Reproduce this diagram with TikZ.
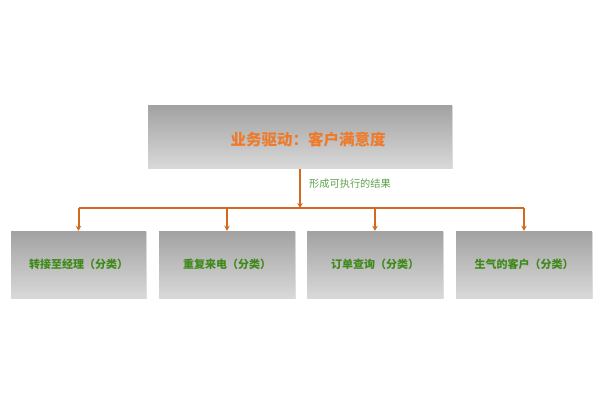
\documentclass[tikz,border=0pt]{standalone}
\usepackage{fontspec}
\setmainfont{Noto Sans CJK SC}
\usetikzlibrary{arrows.meta,shadows}
\definecolor{arr}{HTML}{D2691E}
\definecolor{topt}{HTML}{EE7A2A}
\definecolor{grn}{HTML}{3F8A1A}
\definecolor{lbl}{HTML}{5BA04A}
\definecolor{gtop}{HTML}{A2A2A2}
\definecolor{gbot}{HTML}{D9D9D9}
\tikzset{
  gbox/.style={rectangle, inner sep=0pt, top color=gtop, bottom color=gbot, draw=none,
    drop shadow={shadow xshift=0.8pt, shadow yshift=-0.8pt, opacity=0.25}},
  subtext/.style={font=\bfseries\fontsize{11}{13}\selectfont, text=grn},
  conn/.style={draw=arr, line width=2pt},
  arrconn/.style={conn, -{Stealth[length=5pt,width=5.5pt]}},
}
\begin{document}
\begin{tikzpicture}[x=1pt,y=-1pt]
\useasboundingbox (0,0) rectangle (600,400);
\node[gbox, minimum width=304pt, minimum height=63pt] (top) at (300,137) {};
\node[font=\bfseries\fontsize{15.5}{18}\selectfont, text=topt, inner sep=0pt] (toptext) at (308,140) {业务驱动：客户满意度};
\node[gbox, minimum width=135pt, minimum height=67pt, subtext] (b1) at (78.5,264.5) {转接至经理（分类）};
\node[gbox, minimum width=136pt, minimum height=67pt, subtext] (b2) at (227,264.5) {重复来电（分类）};
\node[gbox, minimum width=136pt, minimum height=67pt, subtext] (b3) at (375,264.5) {订单查询（分类）};
\node[gbox, minimum width=136pt, minimum height=67pt, subtext] (b4) at (524,264.5) {生气的客户（分类）};
\coordinate (hub) at (300,208);
\coordinate (hl) at (78.5,208);
\coordinate (hr) at (524,208);
\draw[arrconn] (top.south) -- (hub);
\node[anchor=west, text=lbl, font=\fontsize{10.2}{12}\selectfont, inner sep=0pt] (lab) at (309,184) {形成可执行的结果};
\draw[conn] (hl) -- (hr);
\draw[arrconn] (hl) -- (b1.north);
\draw[arrconn] (b2.north |- hub) -- (b2.north);
\draw[arrconn] (b3.north |- hub) -- (b3.north);
\draw[arrconn] (hr) -- (b4.north);
\end{tikzpicture}
\end{document}
